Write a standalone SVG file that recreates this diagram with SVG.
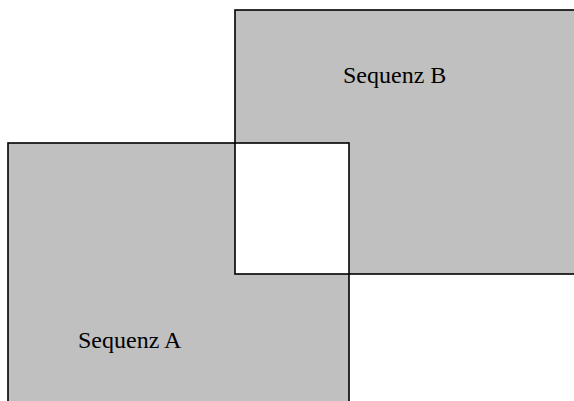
<svg xmlns="http://www.w3.org/2000/svg" width="574" height="401" viewBox="0 0 574 401">
<style>
.fill{fill:#c0c0c0;stroke:none}
.edge{fill:none;stroke:#000;stroke-width:1.6}
.lbl{font-family:"Liberation Serif","Times New Roman",serif;font-size:24px;fill:#000}
</style>
<rect width="574" height="401" fill="#fff"/>
<g id="sequenz-b">
<rect class="fill" x="235" y="10" width="345" height="264"/>
</g>
<g id="sequenz-a">
<rect class="fill" x="8" y="143" width="341" height="270"/>
</g>
<g id="overlap">
<rect x="235" y="143" width="114" height="131" fill="#fff"/>
</g>
<g id="outlines">
<rect class="edge" x="235" y="10" width="345" height="264"/>
<rect class="edge" x="8" y="143" width="341" height="270"/>
</g>
<text class="lbl" x="343" y="83">Sequenz B</text>
<text class="lbl" x="78" y="348">Sequenz A</text>
</svg>
